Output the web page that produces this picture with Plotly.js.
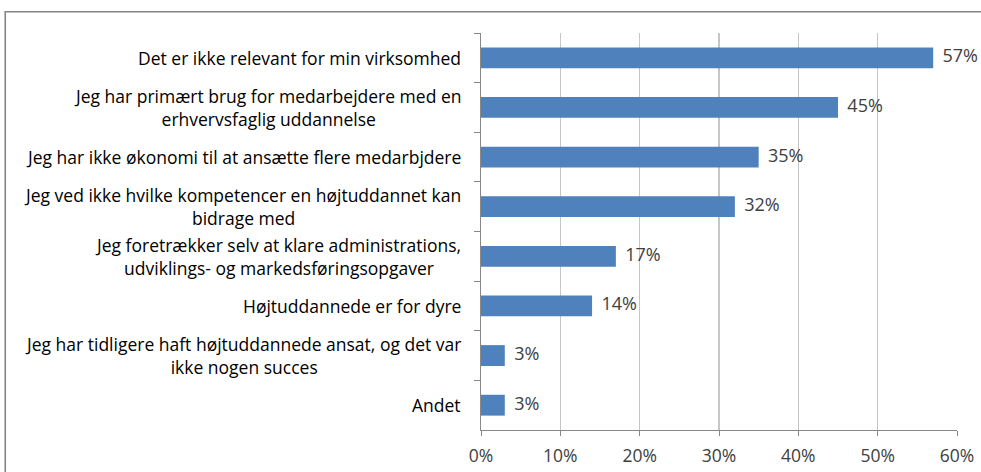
<!DOCTYPE html>
<html>
<head>
<meta charset="utf-8">
<script src="https://cdn.plot.ly/plotly-3.0.1.min.js"></script>
<style>html,body{margin:0;padding:0;background:#fff;}#chart{width:981px;height:472px;}</style>
</head>
<body>
<div id="chart"></div>
<script>
const categories = [
  "Det er ikke relevant for min virksomhed",
  "Jeg har primært brug for medarbejdere med en<br>erhvervsfaglig uddannelse",
  "Jeg har ikke økonomi til at ansætte flere medarbjdere",
  "Jeg ved ikke hvilke kompetencer en højtuddannet kan<br>bidrage med",
  "Jeg foretrækker selv at klare administrations,<br>udviklings- og markedsføringsopgaver",
  "Højtuddannede er for dyre",
  "Jeg har tidligere haft højtuddannede ansat, og det var<br>ikke nogen succes",
  "Andet"
];
const values = [57, 45, 35, 32, 17, 14, 3, 3];
const tickVals = [0, 10, 20, 30, 40, 50, 60];
const tickText = ["0%", "10%", "20%", "30%", "40%", "50%", "60%"];

const FONT = "'Open Sans', sans-serif";

const bars = {
  type: "bar",
  orientation: "h",
  x: values,
  y: categories,
  marker: {color: "#4f81bd", line: {width: 0}},
  width: 0.42,
  hoverinfo: "none"
};
const labels = {
  type: "scatter",
  mode: "text",
  x: values,
  y: categories,
  text: values.map(v => "  " + v + "%"),
  textposition: "middle right",
  textfont: {family: FONT, size: 18, color: "#404040"},
  cliponaxis: false,
  hoverinfo: "none",
  showlegend: false
};

const annotations = categories.map(c => ({
  xref: "paper", yref: "y",
  x: -0.037, y: c,
  xanchor: "right", yanchor: "middle",
  text: c, align: "center", showarrow: false,
  font: {family: FONT, size: 17.5, color: "#000000"}
}));

const layout = {
  width: 981, height: 472,
  margin: {l: 481, r: 24, t: 33, b: 42, pad: 0},
  paper_bgcolor: "#ffffff",
  plot_bgcolor: "#ffffff",
  showlegend: false,
  xaxis: {
    range: [0, 60],
    tickvals: tickVals, ticktext: tickText,
    showgrid: true, gridcolor: "#c6c6c6", gridwidth: 1.3,
    zeroline: false,
    showline: true, linecolor: "#888888", linewidth: 1.3,
    ticks: "outside", ticklen: 5, tickcolor: "#888888",
    ticklabelstandoff: 5,
    tickfont: {family: FONT, size: 17.5, color: "#404040"},
    fixedrange: true
  },
  yaxis: {
    type: "category",
    autorange: "reversed",
    showticklabels: false,
    showgrid: false, zeroline: false,
    showline: true, linecolor: "#888888", linewidth: 1.3,
    ticks: "outside", ticklen: 6, tickcolor: "#888888",
    tickson: "boundaries",
    fixedrange: true
  },
  annotations: annotations,
  shapes: [{
    type: "rect", xref: "paper", yref: "paper",
    x0: -0.9995, x1: 1.2, y0: -0.3, y1: 1.0535,
    line: {color: "#868686", width: 1.6}, fillcolor: "rgba(0,0,0,0)", layer: "below"
  }]
};

Plotly.newPlot("chart", [bars, labels], layout, {displayModeBar: false, staticPlot: true});
</script>
</body>
</html>
